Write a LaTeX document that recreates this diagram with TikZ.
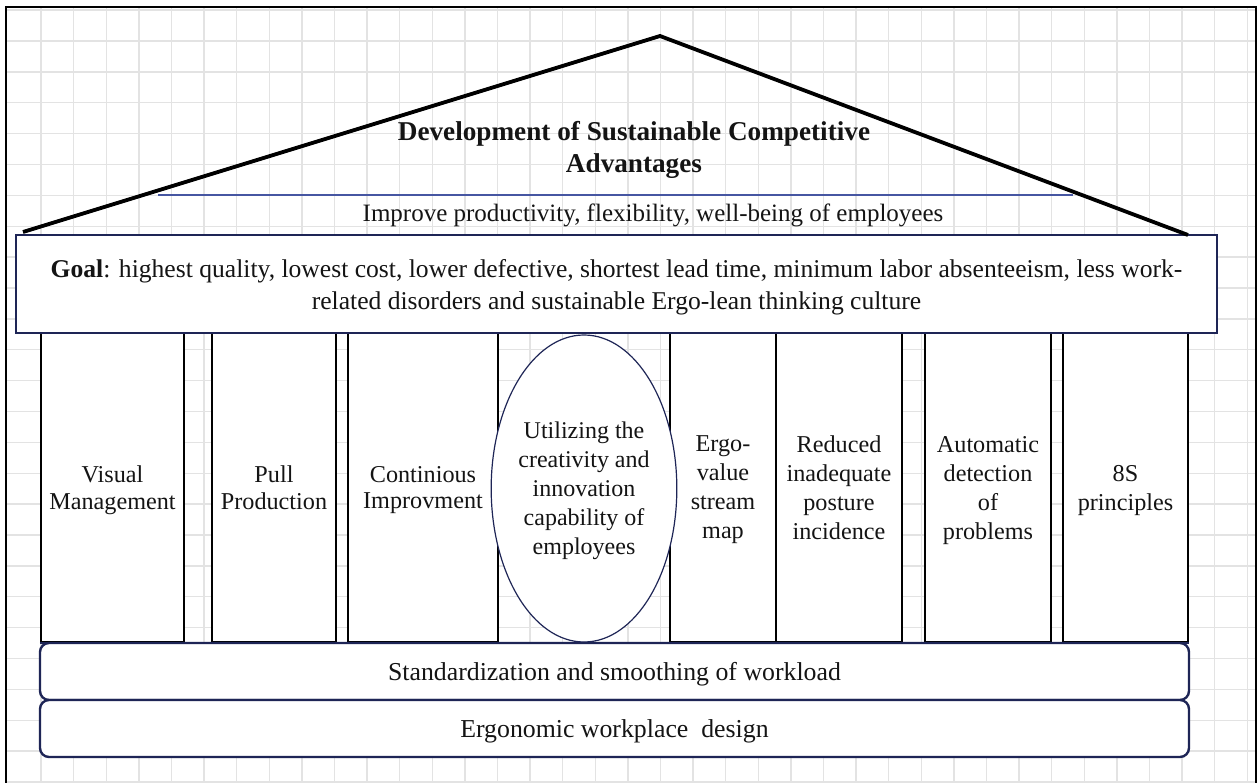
\documentclass[tikz,border=0pt]{standalone}
\usepackage{fontspec}
\setmainfont{Liberation Serif}
\usetikzlibrary{shapes.geometric}
\definecolor{gridgray}{HTML}{E3E3E3}
\definecolor{navy}{HTML}{1E2556}
\definecolor{ruleblue}{HTML}{4656A2}
\definecolor{ink}{HTML}{141414}

\begin{document}
\begin{tikzpicture}[x=1pt,y=-1pt,
  pillar/.style={draw=black, line width=2.4pt, fill=white, minimum height=309pt,
    inner sep=0pt, align=center, text=ink, text depth=0pt,
    font=\fontsize{24.2}{29}\selectfont},
  tightpillar/.style={pillar, font=\fontsize{24.2}{26.5}\selectfont},
  goalbox/.style={draw=navy, line width=2.4pt, fill=white, minimum width=1201pt,
    minimum height=98pt, inner sep=0pt, align=center, text=ink, text depth=0pt,
    font=\fontsize{25.6}{32}\selectfont},
  basebox/.style={draw=navy, line width=2.4pt, fill=white, rounded corners=9pt,
    minimum width=1149pt, minimum height=57pt, inner sep=0pt, text=ink,
    text depth=0pt, font=\fontsize{25.8}{30}\selectfont},
  roofline/.style={draw=black, line width=3.8pt, line join=miter},
  gridline/.style={draw=gridgray, line width=1.4pt}]

\useasboundingbox (0,0) rectangle (1258,783);
\fill[white] (0,0) rectangle (1258,783);

% background grid inside the sheet frame
\begin{scope}
  \clip (6,7) rectangle (1256,783);
  \foreach \k in {0,...,37}
    \draw[gridline] ({41+32.6*\k},7) -- ({41+32.6*\k},783);
  \foreach \k in {-1,...,24}
    \draw[gridline] (6,{41+30.875*\k}) -- (1256,{41+30.875*\k});
\end{scope}
\draw[black, line width=2pt] (6,790) -- (6,7) -- (1256,7) -- (1256,790);

% pillars
\node[tightpillar, minimum width=143pt] (p1) at (112.5,487.5) {Visual\\Management};
\node[tightpillar, minimum width=124pt] (p2) at (274,487.5) {Pull\\Production};
\node[tightpillar, minimum width=150pt] (p3) at (423,487.5) {Continious\\Improvment};
\node[pillar, minimum width=106pt] (p5) at (723,487.5) {Ergo-\\value\\stream\\map};
\node[pillar, minimum width=126pt] (p6) at (839,487.5) {Reduced\\inadequate\\posture\\incidence};
\node[pillar, minimum width=126pt] (p7) at (988,487.5) {Automatic\\detection\\of\\problems};
\node[pillar, minimum width=125pt] (p8) at (1125.5,487.5) {8S\\principles};
\node[ellipse, draw=navy, line width=1.2pt, fill=white, minimum width=168pt,
  minimum height=307pt, inner sep=0pt, align=center, text=ink, text depth=0pt,
  font=\fontsize{24}{29}\selectfont] (p4) at (584,488.5)
  {Utilizing the\\creativity and\\innovation\\capability of\\employees};

% sill under the pillars
\draw[navy, line width=2pt] (p1.south west) -- (p8.south east);

% goal beam
\node[goalbox] (goal) at (616.5,284)
  {\textbf{Goal}: highest quality, lowest cost, lower defective, shortest lead time, minimum labor absenteeism, less work-\\related disorders and sustainable Ergo-lean thinking culture};

% roof
\coordinate (eaveL) at (23,232);
\coordinate (apex) at (660,36);
\coordinate (eaveR) at (1188,235);
\draw[roofline] (eaveL) -- (apex) -- (eaveR);

\coordinate (ruleL) at (158,195);
\coordinate (ruleR) at (1073,195);
\draw[ruleblue, line width=2pt] (ruleL) -- (ruleR);

\node[align=center, text=ink, font=\bfseries\fontsize{27.2}{32}\selectfont] (title) at (634,150)
  {Development of Sustainable Competitive\\Advantages};
\node[text=ink, font=\fontsize{25}{30}\selectfont] (sub) at (653,215)
  {Improve productivity, flexibility, well-being of employees};

% foundation
\node[basebox] (std) at (614.5,671.5) {Standardization and smoothing of workload};
\node[basebox] (ergo) at (614.5,728.5) {Ergonomic workplace\ \ design};

\end{tikzpicture}
\end{document}
